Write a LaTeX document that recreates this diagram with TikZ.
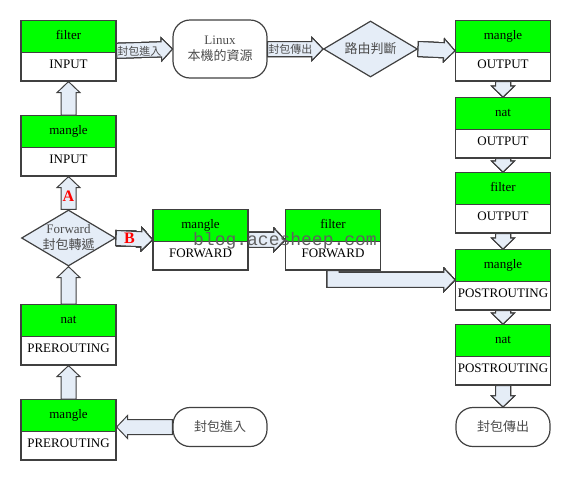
\documentclass[tikz,border=0pt]{standalone}
\usepackage{fontspec}
\setmainfont{Liberation Serif}
\setmonofont{Liberation Mono}
\newfontfamily\cjk{Noto Sans CJK TC}
\usetikzlibrary{shapes.multipart,shapes.geometric,calc}
\definecolor{boxgreen}{rgb}{0, 1, 0}
\definecolor{arrowfill}{rgb}{0.9, 0.93, 0.97}
\definecolor{edgegray}{rgb}{0.25, 0.25, 0.25}
\definecolor{textgray}{rgb}{0.3, 0.3, 0.3}

% two part box: table name on top, chain name below
\newcommand{\twopart}[2]{\rule[-12.5pt]{0pt}{31pt}#1\nodepart{two}\rule[-11.5pt]{0pt}{27pt}#2}
% wide arrow from #1 to #2
\newcommand{\blockarrow}[2]{%
  \draw[barrow] let \p1=(#1), \p2=(#2), \p3=($(\p2)!11pt!(\p1)$) in
    ($(\p1)!7.5pt!90:(\p2)$) -- ($(\p3)!7.5pt!-90:(\p1)$) -- ($(\p3)!11.5pt!-90:(\p1)$)
    -- (\p2) -- ($(\p3)!11.5pt!90:(\p1)$) -- ($(\p3)!7.5pt!90:(\p1)$)
    -- ($(\p1)!7.5pt!-90:(\p2)$) -- cycle;}

\begin{document}
\begin{tikzpicture}[x=1pt, y=-1pt,
    tbox/.style={rectangle split, rectangle split parts=2, rectangle split part fill={boxgreen, white},
      draw=edgegray, line width=1.2pt, minimum width=95pt, inner xsep=0pt, inner ysep=0pt, anchor=north,
      font=\fontsize{13}{15}\selectfont},
    term/.style={draw=edgegray, line width=1.2pt, rounded corners=17pt, minimum width=94pt, inner sep=0pt,
      align=center, text=textgray, font=\fontsize{13}{16}\selectfont},
    decide/.style={diamond, draw=edgegray, fill=arrowfill, line width=1.2pt, minimum width=94pt,
      minimum height=56pt, inner sep=0pt},
    barrow/.style={draw=edgegray, fill=arrowfill, line width=1pt, line join=miter},
    small/.style={text=textgray, font=\cjk\fontsize{11}{11}\selectfont, inner sep=0.5pt, anchor=west},
    tag/.style={text=red, font=\bfseries\fontsize{16}{16}\selectfont}]
  \useasboundingbox (0,0) rectangle (570,480);

  % left column
  \node[tbox] (fi) at (68.5,20) {\twopart{filter}{INPUT}};
  \node[tbox] (mi) at (68.5,115) {\twopart{mangle}{INPUT}};
  \node[decide, label={[text=textgray, align=center, font=\fontsize{13}{16}\selectfont]center:Forward\\{\cjk 封包轉遞}}] (fw) at (68.5,238) {};
  \node[tbox] (np) at (68.5,304) {\twopart{nat}{PREROUTING}};
  \node[tbox] (mp) at (68.5,399) {\twopart{mangle}{PREROUTING}};
  \node[term, minimum height=39pt] (pin) at (220,427) {\cjk 封包進入};

  % top row
  \node[term, minimum height=58pt] (lx) at (220,49) {Linux\\{\cjk 本機的資源}};
  \node[decide, label={[text=textgray, font=\cjk\fontsize{13}{16}\selectfont]center:路由判斷}] (rt) at (370.5,49) {};

  % forward row
  \node[tbox] (mf) at (200.5,209) {\twopart{mangle}{FORWARD}};
  \node[tbox] (ff) at (333,209) {\twopart{filter}{FORWARD}};

  % right column
  \foreach \nm/\ty/\tb/\hk in {mo/20/mangle/OUTPUT, no/97/nat/OUTPUT, fo/172/filter/OUTPUT,
      mpo/249/mangle/POSTROUTING, npo/324/nat/POSTROUTING}
    \node[tbox] (\nm) at (503,\ty) {\twopart{\tb}{\hk}};
  \node[term, minimum height=39pt] (pout) at (503,427) {\cjk 封包傳出};

  % packets coming in, up the left column
  \blockarrow{pin.west}{pin.west -| mp.east}
  \foreach \a/\b in {mp/np, np/fw, fw/mi, mi/fi}
    \blockarrow{\a.north}{\b.south}
  % local process and routing
  \blockarrow{fi.east}{lx.west}
  \blockarrow{lx.east}{rt.west}
  \blockarrow{rt.east}{mo.west}
  \foreach \a/\b in {mo/no, no/fo, fo/mpo, mpo/npo, npo/pout}
    \blockarrow{\a.south}{\b.north}
  % forward path
  \blockarrow{fw.east}{mf.west}
  \blockarrow{mf.east}{ff.west}
  \draw[barrow] ($(ff.south)+(-6,0)$) -- ($(ff.south |- mpo.west)+(-6,7.5)$) -- ($(mpo.west)+(-11,7.5)$)
    -- ($(mpo.west)+(-11,11.5)$) -- (mpo.west) -- ($(mpo.west)+(-11,-11.5)$) -- ($(mpo.west)+(-11,-7.5)$)
    -- ($(ff.south |- mpo.west)+(6,-7.5)$) -- ($(ff.south)+(6,0)$) -- cycle;

  \node[small] (lin) at (fi.east) {封包進入};
  \node[small] (lout) at (lx.east) {封包傳出};
  \node[tag] (la) at (68.5,196.5) {A};
  \node[tag] (lb) at (129.5,238) {B};
  \node[font=\ttfamily\fontsize{18}{18}\selectfont, text=gray!75!black, anchor=base] (wm) at (285,245) {blog.acesheep.com};
\end{tikzpicture}
\end{document}
